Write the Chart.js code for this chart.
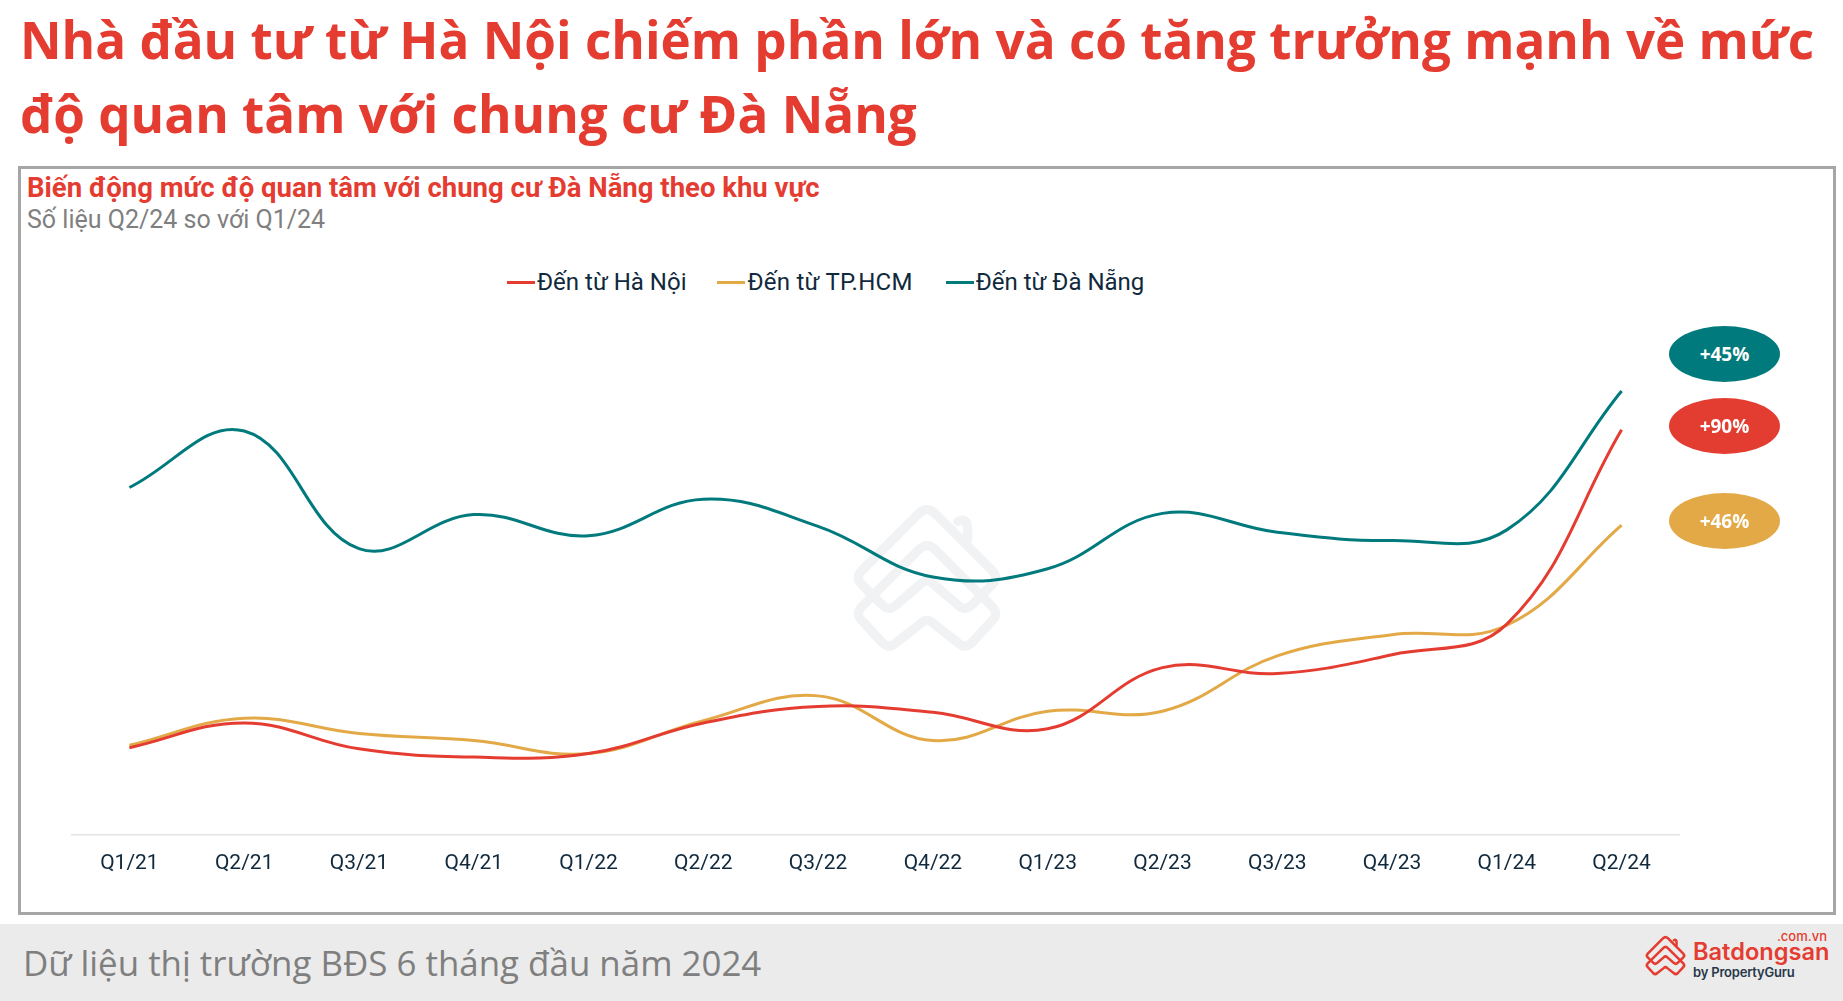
<!DOCTYPE html>
<html lang="vi">
<head>
<meta charset="utf-8">
<title>Chung cư Đà Nẵng</title>
<script src="https://cdn.jsdelivr.net/npm/chart.js@4"></script>
<style>
  html, body { margin: 0; padding: 0; background: #fff; }
  body { position: relative; width: 1843px; height: 1001px; overflow: hidden; font-family: "Roboto", sans-serif; }
  .abs { position: absolute; white-space: nowrap; }
  #title { left: 20px; top: 2px; font: 700 51.2px/74px "Open Sans", sans-serif; color: #e53c31; white-space: pre-line; }
  #frame { left: 18px; top: 166px; width: 1812px; height: 743px; border: 3px solid #a6a6a6; }
  #subTitle { left: 27px; top: 171px; font: 700 27.5px/34px "Roboto", sans-serif; color: #e53c31; }
  #subNote { left: 27px; top: 203px; font: 400 25px/34px "Roboto", sans-serif; color: #7f7f7f; }
  #legend { left: 507px; top: 267px; display: flex; font: 400 24px/30px "Roboto", sans-serif; color: #10293c; }
  #legend .item { display: flex; align-items: center; margin-right: 31px; }
  #legend .item + .item { margin-right: 33px; letter-spacing: 0.25px; }
  #legend .item + .item + .item { letter-spacing: 0; }
  #legend .mark { width: 28px; height: 3px; margin-right: 2px; }
  .badge { width: 111px; height: 56px; left: 1669px; border-radius: 50%; color: #fff; text-align: center; font: 700 19px/56px "Open Sans", sans-serif; }
  #watermark { left: 848px; top: 500px; width: 158px; height: 155px; }
  #chartBox { left: 20px; top: 305px; width: 1810px; height: 579px; }
  #footer { left: 0; top: 924px; width: 1843px; height: 77px; background: #ebebeb; }
  #footerText { left: 23px; top: 939px; font: 400 34.9px/48px "Open Sans", sans-serif; color: #7f7f7f; }
  #logoMark { left: 1644px; top: 934px; width: 43px; height: 43px; }
  #logoName { left: 1693px; top: 934px; font: 600 23.6px/36px "Inter", sans-serif; color: #e53c31; }
  #logoDomain { right: 16px; top: 927px; font: 500 13px/18px "Inter", sans-serif; color: #e53c31; }
  #logoBy { left: 1693px; top: 962px; font: 600 13px/20px "Inter", sans-serif; color: #27384a; letter-spacing: -0.2px; }
</style>
</head>
<body>
<svg width="0" height="0" style="position:absolute">
  <symbol id="logoShape" viewBox="150 70 460 450">
    <g fill="none" stroke="currentColor" stroke-width="27" stroke-linejoin="round" stroke-linecap="round">
      <path d="M355 110 Q380 85 405 110 L570 275 Q590 295 570 315 L510 375 Q490 395 470 375 L400 315 Q380 295 360 315 L290 375 Q270 395 250 375 L190 315 Q170 295 190 275 Z"/>
      <path d="M355 215 Q380 190 405 215 L570 380 Q590 400 570 420 L510 485 Q490 505 470 485 L400 430 Q380 410 360 430 L290 485 Q270 505 250 485 L190 420 Q170 400 190 380 Z"/>
      <path d="M470 132 Q482 124 492 132 Q498 138 498 150 L498 185"/>
    </g>
  </symbol>
</svg>

<div id="title" class="abs">Nhà đầu tư từ Hà Nội chiếm phần lớn và có tăng trưởng mạnh về mức
độ quan tâm với chung cư Đà Nẵng</div>
<div id="frame" class="abs"></div>
<div id="subTitle" class="abs">Biến động mức độ quan tâm với chung cư Đà Nẵng theo khu vực</div>
<div id="subNote" class="abs">Số liệu Q2/24 so với Q1/24</div>
<svg id="watermark" class="abs" style="color:#f1f2f4"><use href="#logoShape"/></svg>
<div id="chartBox" class="abs"><canvas id="trendChart"></canvas></div>
<div id="legend" class="abs"></div>
<div class="abs badge" style="top:326px;background:#007a7c">+45%</div>
<div class="abs badge" style="top:398px;background:#e33c31">+90%</div>
<div class="abs badge" style="top:493px;background:#e2a946">+46%</div>
<div id="footer" class="abs"></div>
<div id="footerText" class="abs">Dữ liệu thị trường BĐS 6 tháng đầu năm 2024</div>
<svg id="logoMark" class="abs" style="color:#e53c31"><use href="#logoShape"/></svg>
<div id="logoDomain" class="abs">.com.vn</div>
<div id="logoName" class="abs">Batdongsan</div>
<div id="logoBy" class="abs">by PropertyGuru</div>

<script>
const quarters = ["Q1/21","Q2/21","Q3/21","Q4/21","Q1/22","Q2/22","Q3/22","Q4/22","Q1/23","Q2/23","Q3/23","Q4/23","Q1/24","Q2/24"];
const haNoi = [18.5,23.75,18.25,16.5,17.25,23.75,27.25,26,22.5,35.5,34.25,38.25,44.75,86];
const tpHcm = [19,24.75,21.5,20,17.25,24.25,29.5,20,26.25,26.25,38,42.5,44.5,65.75];
const daNang = [73.75,85.75,60.75,68,63.5,71.25,65.5,54.75,56.5,68.25,64.25,62.5,64.75,94.25];

const seriesList = [
  { label: "Đến từ Hà Nội", data: haNoi, color: "#e53c31" },
  { label: "Đến từ TP.HCM", data: tpHcm, color: "#e2a946" },
  { label: "Đến từ Đà Nẵng", data: daNang, color: "#007a7c" }
];

new Chart(document.getElementById("trendChart"), {
  type: "line",
  data: {
    labels: quarters,
    datasets: seriesList.map(s => ({
      label: s.label,
      data: s.data,
      borderColor: s.color,
      backgroundColor: s.color,
      borderWidth: 3,
      pointRadius: 0,
      tension: 0.4
    }))
  },
  options: {
    responsive: true,
    maintainAspectRatio: false,
    animation: false,
    layout: { padding: { left: 52, right: 151, top: 0, bottom: 0 } },
    plugins: { legend: { display: false }, tooltip: { enabled: false } },
    scales: {
      x: {
        offset: true,
        border: { color: "#e4e4e4", width: 1.5 },
        grid: { display: false },
        ticks: { color: "#10293c", font: { family: "Roboto", size: 21 }, padding: 8, maxRotation: 0, autoSkip: false }
      },
      y: { display: false, min: 0, max: 112.5 }
    }
  }
});

const legendEl = document.getElementById("legend");
seriesList.forEach(s => {
  const item = document.createElement("div");
  item.className = "item";
  item.innerHTML = `<span class="mark" style="background:${s.color}"></span><span>${s.label}</span>`;
  legendEl.appendChild(item);
});
</script>
</body>
</html>
